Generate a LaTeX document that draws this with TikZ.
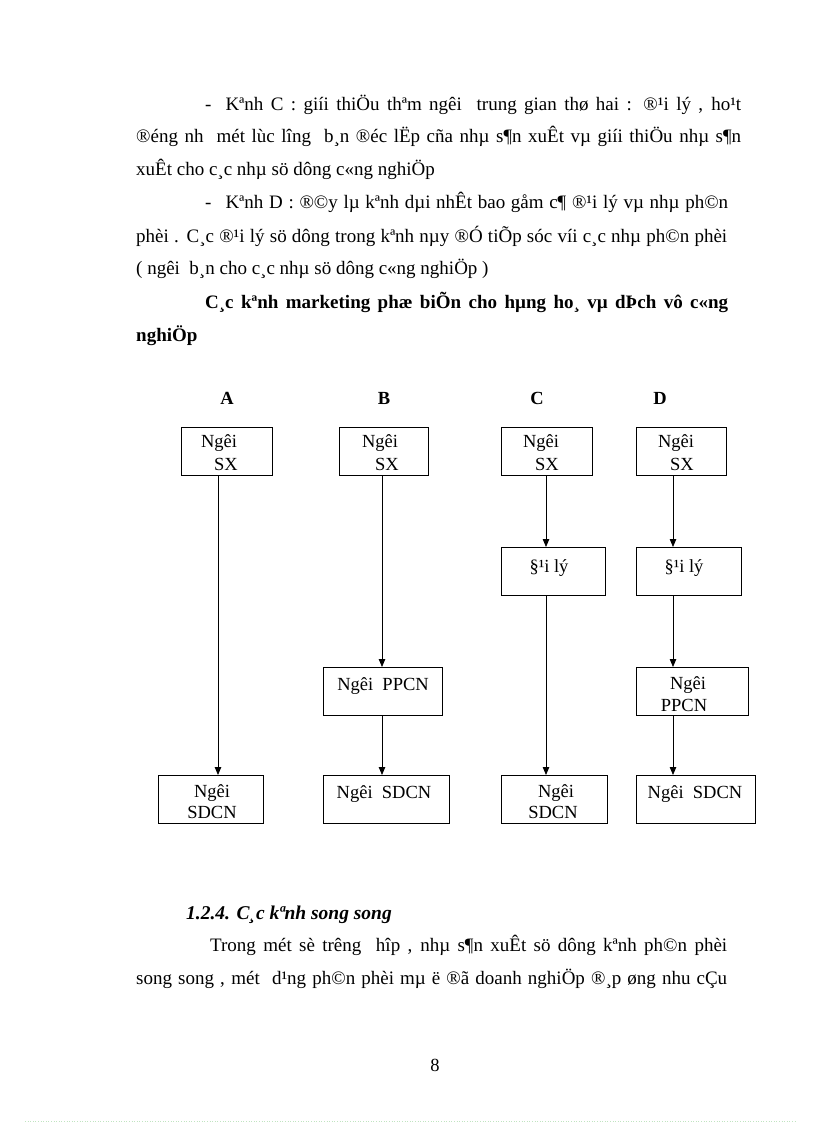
\documentclass[tikz,border=0pt]{standalone}
\usepackage{fontspec}
\setmainfont{Liberation Serif}
\usetikzlibrary{arrows.meta}
\tikzset{
  box/.style={draw, line width=0.9pt, anchor=north west, inner sep=0pt},
  lbl/.style={inner sep=0pt, anchor=base, font=\fontsize{18.5}{22}\selectfont},
  txt/.style={inner sep=0pt, anchor=base west, font=\fontsize{19}{23}\selectfont},
  head/.style={inner sep=0pt, anchor=base, font=\fontsize{18.5}{22}\selectfont\bfseries},
  conn/.style={line width=0.8pt, -{Triangle[length=8pt,width=6.5pt]}}
}
\begin{document}
\begin{tikzpicture}[x=1pt,y=-1pt]
\useasboundingbox[fill=white] (0,0) rectangle (816,1123);
% paragraph 1
\node[txt] (p1a) at (205,111) {\makebox[536pt][s]{-\hspace{14pt}Kªnh C : giíi thiÖu thªm ngêi\ \ trung gian thø hai : ®¹i lý , ho¹t}};
\node[txt] (p1b) at (136,143) {\makebox[605pt][s]{®éng nh\ \ mét lùc lîng\ \ b¸n ®éc lËp cña nhµ s¶n xuÊt vµ giíi thiÖu nhµ s¶n}};
\node[txt] (p1c) at (136,176) {xuÊt cho c¸c nhµ sö dông c«ng nghiÖp};
% paragraph 2
\node[txt] (p2a) at (205,209) {\makebox[523pt][s]{-\hspace{14pt}Kªnh D : ®©y lµ kªnh dµi nhÊt bao gåm c¶ ®¹i lý vµ nhµ ph©n}};
\node[txt] (p2b) at (136,242) {\makebox[591pt][s]{phèi . C¸c ®¹i lý sö dông trong kªnh nµy ®Ó tiÕp sóc víi c¸c nhµ ph©n phèi}};
\node[txt] (p2c) at (136,274) {( ngêi\ \ b¸n cho c¸c nhµ sö dông c«ng nghiÖp )};
% bold title
\node[txt,font=\fontsize{19}{23}\selectfont\bfseries] (t1) at (205,308) {\makebox[523pt][s]{C¸c kªnh marketing phæ biÕn cho hµng ho¸ vµ dÞch vô c«ng}};
\node[txt,font=\fontsize{19}{23}\selectfont\bfseries] (t2) at (136,341) {nghiÖp};
% column heads
\node[head] (hA) at (227,404) {A};
\node[head] (hB) at (384,404) {B};
\node[head] (hC) at (537,404) {C};
\node[head] (hD) at (660,404) {D};
% boxes
\node[box, minimum width=91pt, minimum height=48pt] (A1) at (181,427) {};
\node[box, minimum width=89pt, minimum height=48pt] (B1) at (339,427) {};
\node[box, minimum width=91pt, minimum height=48pt] (C1) at (501,427) {};
\node[box, minimum width=90pt, minimum height=48pt] (D1) at (636,427) {};
\node[box, minimum width=104pt, minimum height=48pt] (C2) at (501,547) {};
\node[box, minimum width=105pt, minimum height=48pt] (D2) at (636,547) {};
\node[box, minimum width=119pt, minimum height=48pt] (B2) at (323,667) {};
\node[box, minimum width=112pt, minimum height=48pt] (D3) at (636,667) {};
\node[box, minimum width=105pt, minimum height=48pt] (A4) at (158,775) {};
\node[box, minimum width=126pt, minimum height=48pt] (B4) at (323,775) {};
\node[box, minimum width=106pt, minimum height=48pt] (C4) at (501,775) {};
\node[box, minimum width=119pt, minimum height=48pt] (D4) at (636,775) {};
% box texts
\node[lbl] (A1a) at (219,447) {Ngêi};
\node[lbl] (A1b) at (226,470) {SX};
\node[lbl] (B1a) at (380,447) {Ngêi};
\node[lbl] (B1b) at (387,470) {SX};
\node[lbl] (C1a) at (541,447) {Ngêi};
\node[lbl] (C1b) at (547,470) {SX};
\node[lbl] (D1a) at (676,447) {Ngêi};
\node[lbl] (D1b) at (682,470) {SX};
\node[lbl] (C2a) at (549,572) {§¹i lý};
\node[lbl] (D2a) at (684,572) {§¹i lý};
\node[lbl] (B2a) at (383,690) {Ngêi\ \ PPCN};
\node[lbl] (D3a) at (688,689) {Ngêi};
\node[lbl] (D3b) at (684,711) {PPCN};
\node[lbl] (A4a) at (212,797) {Ngêi};
\node[lbl] (A4b) at (212,818) {SDCN};
\node[lbl] (B4a) at (384,798) {Ngêi\ \ SDCN};
\node[lbl] (C4a) at (556,797) {Ngêi};
\node[lbl] (C4b) at (553,818) {SDCN};
\node[lbl] (D4a) at (695,798) {Ngêi\ \ SDCN};
% connectors
\draw[conn] (A1.south -| 218,0) -- (A4.north -| 218,0);
\draw[conn] (B1.south -| 382,0) -- (B2.north -| 382,0);
\draw[conn] (B2.south -| 382,0) -- (B4.north -| 382,0);
\draw[conn] (C1.south -| 546,0) -- (C2.north -| 546,0);
\draw[conn] (C2.south -| 546,0) -- (C4.north -| 546,0);
\draw[conn] (D1.south -| 673,0) -- (D2.north -| 673,0);
\draw[conn] (D2.south -| 673,0) -- (D3.north -| 673,0);
\draw[conn] (D3.south -| 673,0) -- (D4.north -| 673,0);
% section heading
\node[txt,font=\fontsize{19.5}{23}\selectfont\bfseries\itshape] (sec) at (186,919) {1.2.4. C¸c kªnh song song};
\node[txt] (p3a) at (210,951) {\makebox[517pt][s]{Trong mét sè trêng\ \ hîp , nhµ s¶n xuÊt sö dông kªnh ph©n phèi}};
\node[txt] (p3b) at (136,984) {\makebox[591pt][s]{song song , mét\ \ d¹ng ph©n phèi mµ ë ®ã doanh nghiÖp ®¸p øng nhu cÇu}};
% page number
\node[lbl] (pg) at (435,1071) {8};
\draw[dotted, line width=0.6pt, color=green!40!gray!35] (25,1121) -- (795,1121);
\end{tikzpicture}
\end{document}
